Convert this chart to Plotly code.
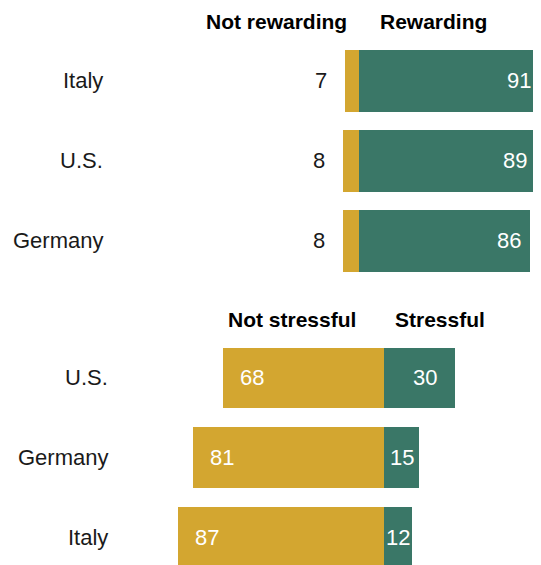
import plotly.graph_objects as go

# Top panel: is the job rewarding?
reward_countries = ["Italy", "U.S.", "Germany"]
not_rewarding = [7, 8, 8]
rewarding = [91, 89, 86]

# Bottom panel: is the job stressful?
stress_countries = ["U.S.", "Germany", "Italy"]
not_stressful = [68, 81, 87]
stressful = [30, 15, 12]

GOLD = "#D3A630"
TEAL = "#3A7767"
FONT = "Liberation Sans, Arial, sans-serif"
OFF = 8  # page body margin
W, H = 541 - OFF, 565 - OFF


def py(screen_y):
    # screen pixel (from top) -> paper fraction
    return (H - (screen_y - OFF)) / H


fig = go.Figure()

fig.add_trace(go.Bar(y=reward_countries, x=[-v for v in not_rewarding], orientation="h",
                     marker=dict(color=GOLD, line=dict(width=0)), width=0.77,
                     xaxis="x", yaxis="y", hoverinfo="skip"))
fig.add_trace(go.Bar(y=reward_countries, x=rewarding, orientation="h",
                     marker=dict(color=TEAL, line=dict(width=0)), width=0.77,
                     xaxis="x", yaxis="y", hoverinfo="skip"))
fig.add_trace(go.Bar(y=stress_countries, x=[-v for v in not_stressful], orientation="h",
                     marker=dict(color=GOLD, line=dict(width=0)), width=0.76,
                     xaxis="x2", yaxis="y2", hoverinfo="skip"))
fig.add_trace(go.Bar(y=stress_countries, x=stressful, orientation="h",
                     marker=dict(color=TEAL, line=dict(width=0)), width=0.76,
                     xaxis="x2", yaxis="y2", hoverinfo="skip"))

ann = []
lab = dict(family=FONT, size=22, color="#1a1a1a")
white = dict(family=FONT, size=22, color="white")

# country labels
for c in reward_countries:
    ann.append(dict(x=(105 - OFF) / W, y=c, xref="paper", yref="y", text=c, xanchor="right",
                    yanchor="middle", showarrow=False, font=lab))
for c in stress_countries:
    ann.append(dict(x=(110 - OFF) / W, y=c, xref="paper", yref="y2", text=c, xanchor="right",
                    yanchor="middle", showarrow=False, font=lab))

# values, top panel
for c, v in zip(reward_countries, not_rewarding):
    ann.append(dict(x=-v, y=c, xref="x", yref="y", text=str(v), xanchor="right", xshift=-16,
                    showarrow=False, font=lab))
for c, v in zip(reward_countries, rewarding):
    ann.append(dict(x=v, y=c, xref="x", yref="y", text=str(v), xanchor="right", xshift=-7,
                    showarrow=False, font=white))

# values, bottom panel
for c, v in zip(stress_countries, not_stressful):
    ann.append(dict(x=-v, y=c, xref="x2", yref="y2", text=str(v), xanchor="left", xshift=15,
                    showarrow=False, font=white))
for c, v in zip(stress_countries, stressful):
    if v >= 20:
        ann.append(dict(x=v, y=c, xref="x2", yref="y2", text=str(v), xanchor="right", xshift=-16,
                        showarrow=False, font=white))
    else:
        ann.append(dict(x=v / 2, y=c, xref="x2", yref="y2", text=str(v), xanchor="center",
                        showarrow=False, font=white))

# column headers
hdr = dict(family=FONT, size=21, color="black")
for txt, xc, yc in [("<b>Not rewarding</b>", 276, 21), ("<b>Rewarding</b>", 433, 21),
                    ("<b>Not stressful</b>", 292, 319), ("<b>Stressful</b>", 440, 319)]:
    ann.append(dict(x=(xc - OFF) / W, y=py(yc), xref="paper", yref="paper", text=txt,
                    xanchor="center", yanchor="middle", showarrow=False, font=hdr))

axis_off = dict(showgrid=False, zeroline=False, showticklabels=False, showline=False, ticks="")

top_base, top_scale = 359 - OFF, 2.0
bot_base, bot_scale = 384 - OFF, 2.364
pitch = 79.6

fig.update_layout(
    width=W, height=H,
    margin=dict(l=0, r=0, t=0, b=0),
    paper_bgcolor="white", plot_bgcolor="white",
    barmode="relative", bargap=0,
    showlegend=False,
    xaxis=dict(domain=[0, 1], range=[-top_base / top_scale, (W - top_base) / top_scale + 0.3],
               anchor="y", **axis_off),
    yaxis=dict(domain=[py(280.8), py(40.8)], range=[2.5, -0.5],
               anchor="x", categoryorder="array", categoryarray=reward_countries, **axis_off),
    xaxis2=dict(domain=[0, 1], range=[-bot_base / bot_scale, (W - bot_base) / bot_scale],
                anchor="y2", **axis_off),
    yaxis2=dict(domain=[0, py(338.05)], range=[(H + OFF - 377.85) / pitch, -0.5],
                anchor="x2", categoryorder="array", categoryarray=stress_countries, **axis_off),
    annotations=ann,
)

fig.write_html("out.html")
